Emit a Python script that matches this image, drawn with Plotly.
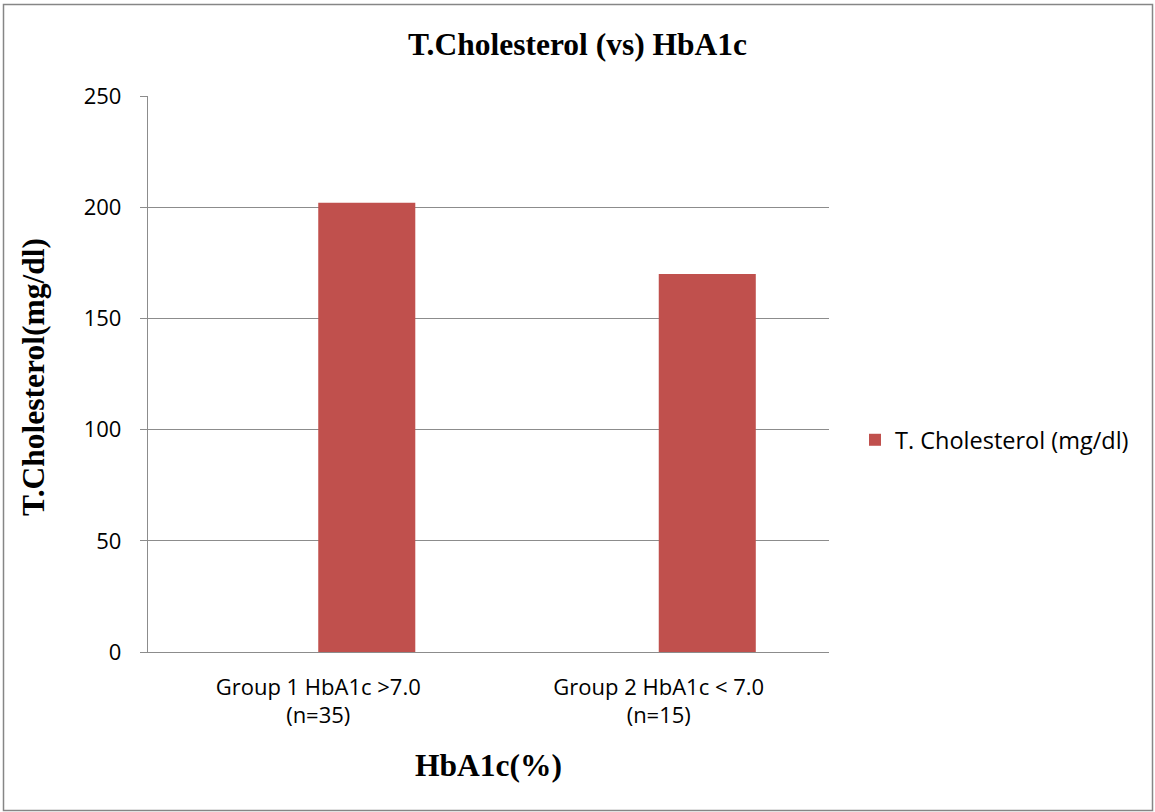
import plotly.graph_objects as go

# Data
categories = ["Group 1 HbA1c >7.0<br>(n=35)", "Group 2 HbA1c < 7.0<br>(n=15)"]
cholesterol = [202, 170]
series_name = "T. Cholesterol (mg/dl)"
y_ticks = [0, 50, 100, 150, 200, 250]

W, H = 1155, 812
L, R, T, B = 148, 326, 96, 160
pw, ph = W - L - R, H - T - B

def px_x(v):
    return (v - L) / pw

def px_y(v):
    return (H - B - v) / ph

grid_col = "#8c8c8c"
tick_font = dict(family="Open Sans, Noto Sans, sans-serif", size=22, color="#000000")
legend_font = dict(family="Open Sans, Noto Sans, sans-serif", size=23.5, color="#000000")
serif_bold = dict(family="Liberation Serif, Times New Roman, serif", size=31.5, color="#000000")

fig = go.Figure()
fig.add_trace(go.Bar(
    x=categories,
    y=cholesterol,
    name=series_name,
    marker=dict(color="#C0504D", line=dict(width=0)),
    offset=0,
    width=0.285,
    showlegend=True,
))

fig.update_layout(
    width=W, height=H,
    margin=dict(l=L, r=R, t=T, b=B, pad=0),
    paper_bgcolor="#ffffff",
    plot_bgcolor="#ffffff",
    title=dict(
        text="<b>T.Cholesterol (vs) HbA1c</b>",
        font=serif_bold,
        x=0.5, xref="container", xanchor="center",
        y=1 - 44 / H, yref="container", yanchor="middle",
    ),
    xaxis=dict(
        type="category",
        range=[-0.5, 1.5],
        showline=True, linecolor=grid_col, linewidth=1.3,
        showgrid=False, ticks="",
        tickfont=tick_font,
        ticklabelstandoff=15,
        fixedrange=True,
    ),
    yaxis=dict(
        range=[0, 250],
        tickvals=y_ticks,
        showline=True, linecolor=grid_col, linewidth=1.3,
        showgrid=True, gridcolor=grid_col, gridwidth=1.3,
        ticks="outside", ticklen=7, tickcolor=grid_col, tickwidth=1.3,
        tickfont=tick_font,
        ticklabelstandoff=14,
        zeroline=False,
        fixedrange=True,
    ),
    legend=dict(
        x=px_x(855), xanchor="left",
        y=px_y(440), yanchor="middle",
        font=legend_font,
        bgcolor="rgba(0,0,0,0)",
        itemsizing="constant",
    ),
    annotations=[
        dict(
            text="<b>T.Cholesterol(mg/dl)</b>",
            xref="paper", yref="paper",
            x=px_x(33), y=px_y(377),
            xanchor="center", yanchor="middle",
            textangle=-90, showarrow=False, font=serif_bold,
        ),
        dict(
            text="<b>HbA1c(%)</b>",
            xref="paper", yref="paper",
            x=0.5, y=px_y(765),
            xanchor="center", yanchor="middle",
            showarrow=False, font=serif_bold,
        ),
    ],
    shapes=[
        dict(
            type="rect", xref="paper", yref="paper",
            x0=px_x(3.5), x1=px_x(1152.5), y0=px_y(810.5), y1=px_y(4.5),
            line=dict(color="#868686", width=1.5),
            fillcolor="rgba(0,0,0,0)", layer="below",
        )
    ],
)

fig.write_html("out.html")
